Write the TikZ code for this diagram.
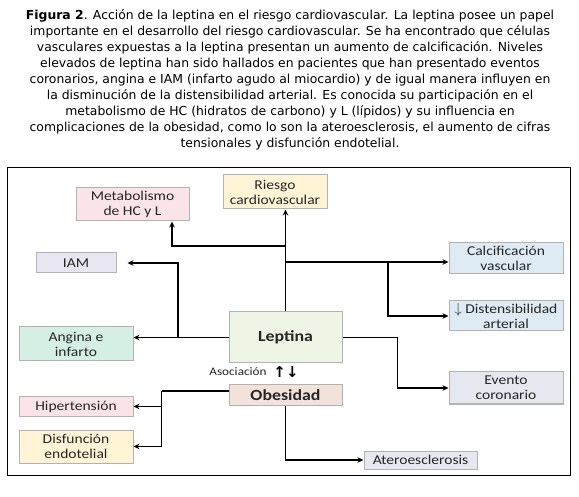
\documentclass[tikz,border=0pt]{standalone}
\usepackage{fontspec}
\setmainfont{DejaVu Sans}
\newfontfamily\boxfont[FakeStretch=1.15]{Carlito}
\usetikzlibrary{arrows.meta, positioning}
\definecolor{boxpink}{HTML}{FBE4E8}
\definecolor{boxyellow}{HTML}{FFF4D6}
\definecolor{boxlilac}{HTML}{E8E6F0}
\definecolor{boxblue}{HTML}{DEEBF4}
\definecolor{boxmint}{HTML}{D5EFE5}
\definecolor{boxgreen}{HTML}{EEF5E4}
\definecolor{boxpeach}{HTML}{F3E2DA}
\definecolor{boxgrey}{HTML}{E5E8EE}

\begin{document}
\begin{tikzpicture}[
    x=1pt, y=1pt,
    box/.style={draw=gray!60, line width=1pt, minimum width=114pt, minimum height=32pt, inner sep=1pt, align=center, text=black!85, font=\boxfont\fontsize{13.5}{15}\selectfont},
    arr/.style={-{Stealth[length=6pt, width=5.5pt]}, line width=1.4pt},
    link/.style={line width=1.4pt},
]
\useasboundingbox (0,0) rectangle (579,-497);

% Caption
\node[align=center, inner sep=0pt, font=\fontsize{12.4}{16}\selectfont] (caption) at (290,-80) {%
\textbf{Figura 2}. Acción de la leptina en el riesgo cardiovascular. La leptina posee un papel\\
importante en el desarrollo del riesgo cardiovascular. Se ha encontrado que células\\
vasculares expuestas a la leptina presentan un aumento de calcificación. Niveles\\
elevados de leptina han sido hallados en pacientes que han presentado eventos\\
coronarios, angina e IAM (infarto agudo al miocardio) y de igual manera influyen en\\
la disminución de la distensibilidad arterial. Es conocida su participación en el\\
metabolismo de HC (hidratos de carbono) y L (lípidos) y su influencia en\\
complicaciones de la obesidad, como lo son la ateroesclerosis, el aumento de cifras\\
tensionales y disfunción endotelial.};

% Frame
\draw[line width=1pt] (7,-168) rectangle (570,-475);

% Center
\node[box, fill=boxgreen, minimum width=113pt, minimum height=51pt, font=\boxfont\fontsize{15.5}{17}\selectfont\bfseries] (leptina) at (285.5,-337.5) {Leptina};
\node[box, fill=boxpeach, minimum width=113pt, minimum height=20pt, below=21pt of leptina, font=\boxfont\fontsize{15.5}{17}\selectfont\bfseries] (obesidad) {Obesidad};
\node[font=\boxfont\fontsize{11.5}{13}\selectfont, text=black!85] (asoc) at (238,-372) {Asociación};
\node[font=\fontsize{15}{17}\selectfont\bfseries, inner sep=0pt] (updown) at (286,-372) {↑↓};

% Top and left
\node[box, fill=boxyellow, minimum width=104pt, minimum height=34pt] (riesgo) at (275,-192) {Riesgo\\cardiovascular};
\node[box, fill=boxpink, minimum width=113pt, minimum height=33pt] (meta) at (132.5,-204.5) {Metabolismo\\de HC y L};
\node[box, fill=boxlilac, minimum width=80pt, minimum height=20pt] (iam) at (76,-263) {IAM};
\node[box, fill=boxmint, minimum height=34pt] (angina) at (76,-344) {Angina e\\infarto};
\node[box, fill=boxpink, minimum height=19pt] (hiper) at (76,-406.5) {Hipertensión};
\node[box, fill=boxyellow, minimum height=33pt] (disf) at (76,-446.5) {Disfunción\\endotelial};

% Right
\node[box, fill=boxblue, minimum height=31pt] (calc) at (506,-258.5) {Calcificación\\vascular};
\node[box, fill=boxblue, minimum height=30pt] (dist) at (506,-316) {{\fontsize{14}{14}\selectfont$\downarrow$} Distensibilidad\\arterial};
\node[box, fill=boxgrey, minimum height=32pt] (evento) at (506,-388) {Evento\\coronario};
\node[box, fill=boxgrey, minimum width=113pt, minimum height=18pt] (atero) at (420.5,-460) {Ateroesclerosis};

% Leptina up
\draw[arr] (leptina.north) -- (leptina.north |- riesgo.south);
\coordinate (jm) at (leptina.north |- 0,-246);
\draw[arr] (jm) -| ([xshift=39.5pt]meta.south);
\coordinate (jc) at (leptina.north |- 0,-262);
\draw[arr] (jc) -- (jc -| calc.west);
\coordinate (jd) at (388,-262);
\draw[arr] (jd) |- (dist.west);

% Leptina left
\draw[arr] (leptina.west) -- (leptina.west -| angina.east);
\coordinate (ji) at (178,-337.5);
\draw[arr, shorten >=11pt] (ji) |- (iam.east);

% Leptina right
\draw[arr] (leptina.east) -- ++(55,0) |- (evento.west);

% Obesidad
\draw[link] ([yshift=4pt]obesidad.west) -- ++(-67,0) coordinate (jo);
\draw[arr] (jo) |- (hiper.east);
\draw[arr] (jo) |- (disf.east);
\draw[arr] (obesidad.south) |- (atero.west);

\end{tikzpicture}
\end{document}
